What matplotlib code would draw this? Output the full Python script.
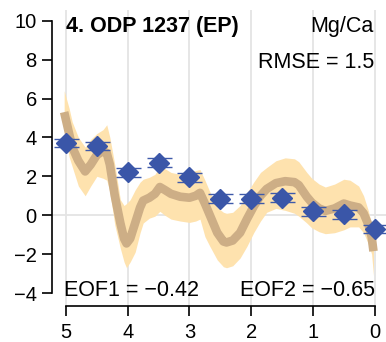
import matplotlib
matplotlib.use("Agg")
import matplotlib.pyplot as plt
import numpy as np

plt.rcParams['font.family'] = ['Liberation Sans', 'DejaVu Sans']

# Proxy data points (age Ma, anomaly)
obs_x = [5.0, 4.5, 4.0, 3.5, 3.0, 2.5, 2.0, 1.5, 1.0, 0.5, 0.0]
obs_y = [3.72, 3.55, 2.2, 2.7, 1.95, 0.85, 0.85, 0.9, 0.2, 0.05, -0.7]
obs_err = [0.22, 0.22, 0.22, 0.22, 0.22, 0.22, 0.22, 0.22, 0.22, 0.22, 0.22]

# Model curve and uncertainty band
mod_x = [5.03, 4.95, 4.9, 4.8, 4.69, 4.6, 4.5, 4.4, 4.34, 4.29, 4.21, 4.12, 4.06, 4.02,
         3.96, 3.88, 3.8, 3.75, 3.65, 3.56, 3.48, 3.4, 3.3, 3.15, 3.0, 2.9, 2.83,
         2.75, 2.67, 2.55, 2.45, 2.4, 2.3, 2.18, 2.07, 1.96, 1.85, 1.75, 1.6, 1.45,
         1.3, 1.23, 1.1, 1.02, 0.9, 0.8, 0.65, 0.5, 0.4, 0.26, 0.18, 0.1, 0.05, 0.02]
mod_y = [5.3, 4.2, 3.5, 2.8, 2.25, 2.6, 3.1, 3.3, 3.2, 2.6, 1.0, -0.4, -1.2, -1.45,
         -1.2, -0.4, 0.4, 0.75, 0.9, 1.1, 1.45, 1.3, 1.1, 0.95, 0.9, 1.0, 1.15,
         0.6, 0.0, -0.9, -1.35, -1.4, -1.3, -0.9, -0.2, 0.45, 1.0, 1.35, 1.65, 1.75,
         1.7, 1.55, 0.95, 0.65, 0.35, 0.22, 0.35, 0.6, 0.5, 0.4, 0.1, -0.5, -1.1, -1.85]
band_hi = [6.4, 5.5, 4.8, 4.0, 3.5, 3.9, 4.2, 4.4, 4.65, 4.0, 2.6, 0.8, 0.5, 0.6,
           0.8, 1.3, 1.7, 1.85, 1.95, 2.1, 2.5, 2.4, 2.2, 2.1, 2.2, 2.3, 2.35,
           1.8, 1.2, 0.4, 0.15, 0.1, 0.15, 0.5, 1.15, 1.7, 2.2, 2.45, 2.8, 2.95,
           2.9, 2.75, 2.2, 1.9, 1.6, 1.45, 1.6, 1.85, 1.8, 1.5, 1.0, 0.2, -0.5, -1.3]
band_lo = [4.4, 3.0, 2.5, 1.5, 1.0, 1.5, 2.0, 1.9, 1.8, 1.2, -0.5, -1.7, -2.4, -2.7,
           -2.4, -1.9, -0.9, -0.4, -0.15, -0.05, 0.2, 0.0, -0.2, -0.3, -0.37, -0.3, -0.2,
           -1.1, -1.6, -2.3, -2.65, -2.7, -2.6, -2.2, -1.6, -0.9, -0.3, 0.15, 0.35, 0.25,
           0.1, -0.05, -0.4, -0.65, -0.85, -0.95, -0.9, -0.75, -0.6, -0.6, -0.9, -1.5, -2.0, -3.1]

x_ticks = [5, 4, 3, 2, 1, 0]
y_ticks = [-4, -2, 0, 2, 4, 6, 8, 10]

W, H = 386, 342
fig = plt.figure(figsize=(W / 100, H / 100), dpi=100)
ax = fig.add_axes([52 / W, (H - 306) / H, 334 / W, 296 / H])

ax.set_xlim(5.227, -0.183)
ax.set_ylim(-4.667, 10.55)

grid_c = '#E4E4E4'
for xt in x_ticks:
    ax.axvline(xt, color=grid_c, lw=1.3, zorder=0)
ax.axhline(0, color=grid_c, lw=1.3, zorder=0)

ax.fill_between(mod_x, band_lo, band_hi, color='#FEE2AE', lw=0, zorder=1)
ax.plot(mod_x, mod_y, color='#CDAE86', lw=6.2, solid_capstyle='butt', zorder=2)

ax.errorbar(obs_x, obs_y, yerr=obs_err, fmt='none', ecolor='#3E5AAA',
            elinewidth=1.0, capsize=9, capthick=1.0, zorder=3)
ax.plot(obs_x, obs_y, 'D', color='#3A56A8', ms=10, mec='#3A56A8', zorder=4)

for s in ['top', 'right']:
    ax.spines[s].set_visible(False)
ax.spines['left'].set_bounds(-4, 10)
ax.spines['bottom'].set_bounds(0, 5)
for s in ['left', 'bottom']:
    ax.spines[s].set_linewidth(1.2)
ax.set_xticks(x_ticks)
ax.set_yticks(y_ticks)
ax.set_xticklabels([str(v) for v in x_ticks])
ax.set_yticklabels([str(v).replace('-', '\u2212') for v in y_ticks])
ax.tick_params(axis='both', length=7.5, width=1.2, labelsize=14.5, direction='out')
ax.tick_params(axis='y', pad=3.4)
ax.tick_params(axis='x', pad=4.5)

def ftext(px, py, s, **kw):
    fig.text(px / W, 1 - py / H, s, va='baseline', **kw)

ftext(66.5, 31.7, '4. ODP 1237 (EP)', fontsize=15.5, fontweight='bold', ha='left')
ftext(374, 31.7, 'Mg/Ca', fontsize=15.5, ha='right')
ftext(374, 68.3, 'RMSE = 1.5', fontsize=15.5, ha='right')
ftext(64, 296.5, 'EOF1 = \u22120.42', fontsize=15.5, ha='left')
ftext(375, 296.5, 'EOF2 = \u22120.65', fontsize=15.5, ha='right')

fig.savefig('out.png', dpi=100)
